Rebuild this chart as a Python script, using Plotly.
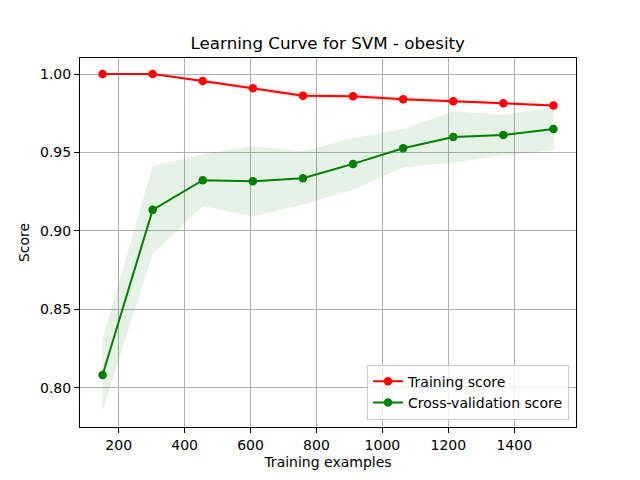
import plotly.graph_objects as go

# training set sizes and scores
train_sizes = [151, 303, 455, 607, 759, 911, 1063, 1215, 1367, 1519]
train_mean = [1.0, 1.0, 0.9955, 0.9909, 0.9862, 0.9858, 0.9839, 0.9826, 0.9813, 0.9800]
train_std = [0.0, 0.0, 0.0012, 0.0015, 0.0018, 0.0016, 0.0014, 0.0012, 0.0011, 0.0010]
cv_mean = [0.8081, 0.9134, 0.9323, 0.9316, 0.9336, 0.9427, 0.9527, 0.9599, 0.9611, 0.9650]
cv_std = [0.023, 0.028, 0.0165, 0.0225, 0.017, 0.0165, 0.0123, 0.0163, 0.013, 0.0135]

x_ticks = [200, 400, 600, 800, 1000, 1200, 1400]
y_ticks = [0.80, 0.85, 0.90, 0.95, 1.00]

FONT = "DejaVu Sans"


def band(mean, std):
    upper = [m + s for m, s in zip(mean, std)]
    lower = [m - s for m, s in zip(mean, std)]
    return train_sizes + train_sizes[::-1], upper + lower[::-1]


fig = go.Figure()

bx, by = band(train_mean, train_std)
fig.add_trace(go.Scatter(x=bx, y=by, fill='toself', fillcolor='rgba(255,0,0,0.1)',
                         line=dict(width=0), mode='lines', hoverinfo='skip', showlegend=False))
bx, by = band(cv_mean, cv_std)
fig.add_trace(go.Scatter(x=bx, y=by, fill='toself', fillcolor='rgba(0,128,0,0.1)',
                         line=dict(width=0), mode='lines', hoverinfo='skip', showlegend=False))

fig.add_trace(go.Scatter(x=train_sizes, y=train_mean, mode='lines+markers', name='Training score',
                         line=dict(color='#ff0000', width=2), marker=dict(color='#ff0000', size=8.5)))
fig.add_trace(go.Scatter(x=train_sizes, y=cv_mean, mode='lines+markers', name='Cross-validation score',
                         line=dict(color='#008000', width=2), marker=dict(color='#008000', size=8.5)))

axis_common = dict(
    showgrid=True, gridcolor='#b0b0b0', gridwidth=1,
    showline=True, linecolor='black', linewidth=1, mirror=True,
    ticks='outside', ticklen=5, tickcolor='black', tickwidth=1,
    zeroline=False, tickfont=dict(family=FONT, size=14, color='black'),
)

# page body has an 8px margin, so the figure is 8px smaller and margins are shifted
fig.update_layout(
    width=632, height=472,
    paper_bgcolor='white', plot_bgcolor='white',
    margin=dict(l=72, r=64, t=50, b=53),
    font=dict(family=FONT, size=14, color='black'),
    title=dict(text='Learning Curve for SVM - obesity', x=0.506, xanchor='center',
               y=0.926, yanchor='middle', font=dict(family=FONT, size=16.7, color='black')),
    xaxis=dict(axis_common, range=[82.6, 1587.4], tickvals=x_ticks,
               title=dict(text='Training examples', font=dict(family=FONT, size=14), standoff=5)),
    yaxis=dict(axis_common, range=[0.775, 1.0102], tickvals=y_ticks, tickformat='.2f',
               title=dict(text='Score', font=dict(family=FONT, size=14), standoff=7)),
    legend=dict(x=0.986, y=0.02, xanchor='right', yanchor='bottom',
                bgcolor='rgba(255,255,255,0.8)', bordercolor='#cccccc', borderwidth=1,
                font=dict(family=FONT, size=14, color='black'), tracegroupgap=0),
    showlegend=True,
)

fig.write_html("out.html")
